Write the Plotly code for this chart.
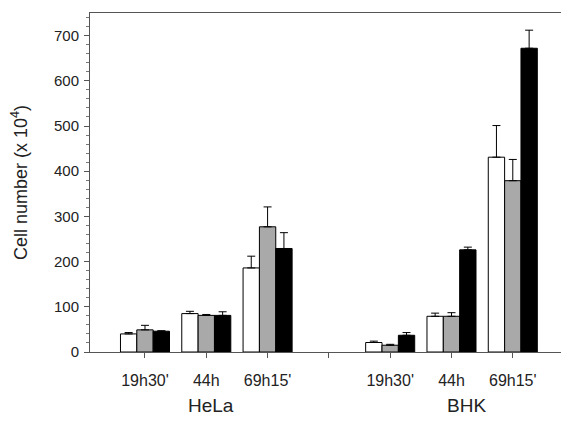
import plotly.graph_objects as go

positions = [0, 1, 2, 4, 5, 6]
tick_positions = [0, 1, 2, 4, 5, 6]
tick_labels = ["19h30'", "44h", "69h15'", "19h30'", "44h", "69h15'"]

white_vals = [40, 85, 186, 21, 79, 431]
white_err = [3, 5, 26, 3, 7, 70]
gray_vals = [49, 81, 277, 15, 79, 379]
gray_err = [10, 2, 44, 2, 8, 47]
black_vals = [46, 81, 229, 37, 226, 672]
black_err = [1, 8, 35, 6, 6, 40]

group_names = ["HeLa", "BHK"]

font_fam = "Liberation Sans, Arial, sans-serif"
txt = "#222222"

fig = go.Figure()
for vals, errs, col in [(white_vals, white_err, "#ffffff"),
                        (gray_vals, gray_err, "#a9a9a9"),
                        (black_vals, black_err, "#000000")]:
    fig.add_trace(go.Bar(
        x=positions, y=vals,
        marker=dict(color=col, line=dict(color="#000000", width=1)),
        error_y=dict(type="data", array=errs, arrayminus=[0] * len(errs),
                     symmetric=False, color="#000000", thickness=1, width=4),
        showlegend=False,
    ))

# page body adds an 8px offset, so the figure is sized to fill the rest
fig.update_layout(
    width=561, height=419,
    margin=dict(l=82, r=0, t=5, b=75),
    barmode="group", bargap=0.2, bargroupgap=0,
    plot_bgcolor="white", paper_bgcolor="white",
    font=dict(family=font_fam, color=txt, size=15),
)
fig.update_xaxes(
    range=[-0.897, 6.917], automargin=False,
    tickvals=tick_positions, ticktext=tick_labels,
    ticks="outside", ticklen=5, tickcolor="#555555", ticklabelstandoff=9,
    minor=dict(dtick=1, tick0=0, ticks="outside", ticklen=5, tickcolor="#555555"),
    showline=True, linecolor="#555555", linewidth=1, mirror=True,
    showgrid=False, zeroline=False,
    tickfont=dict(size=16, color=txt, family=font_fam),
)
fig.update_yaxes(
    range=[0, 750], automargin=False, tickvals=[0, 100, 200, 300, 400, 500, 600, 700],
    ticks="outside", ticklen=5, tickcolor="#555555", ticklabelstandoff=2,
    minor=dict(dtick=20, ticks="outside", ticklen=3, tickcolor="#777777"),
    showline=True, linecolor="#555555", linewidth=1,
    showgrid=False, zeroline=False,
    tickfont=dict(size=15, color=txt, family=font_fam),
    title=dict(text="Cell number (x 10<sup>4</sup>)", font=dict(size=18, color=txt, family=font_fam), standoff=22),
)
for name, xpos in zip(group_names, [1.07, 5.25]):
    fig.add_annotation(x=xpos, xref="x", y=-0.195, yref="paper", text=name,
                       showarrow=False, font=dict(size=19, color=txt, family=font_fam))

fig.write_html("out.html")
